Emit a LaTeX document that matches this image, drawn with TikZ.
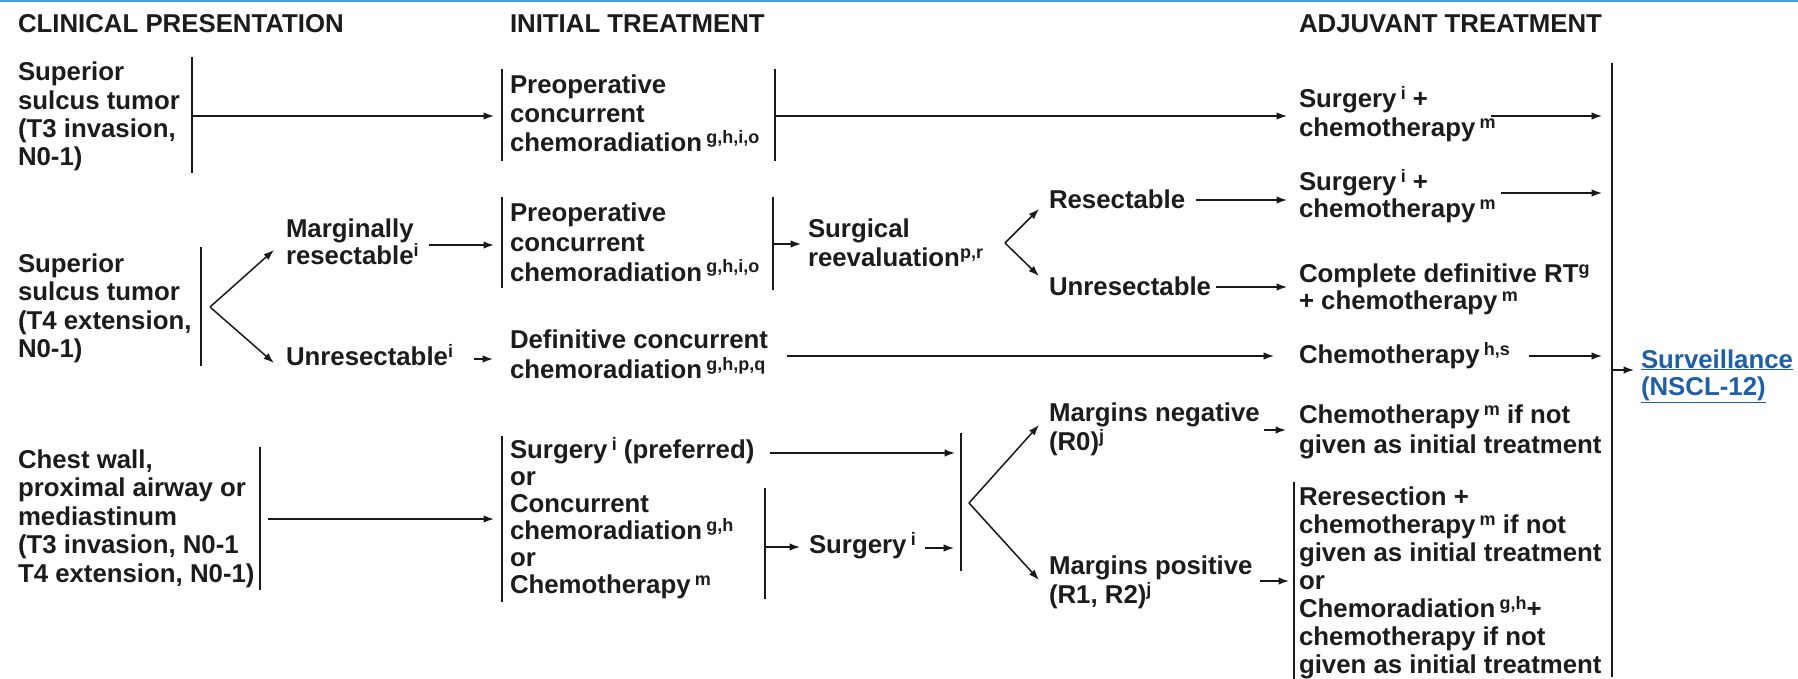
\documentclass[tikz,border=0pt]{standalone}
\usepackage{fontspec}
\setmainfont{Liberation Sans}
\usetikzlibrary{arrows.meta}
\definecolor{txt}{RGB}{28,28,28}
\definecolor{topline}{RGB}{70,160,215}
\definecolor{linkblue}{RGB}{30,95,165}
\newcommand\blk[2]{\fontsize{25.8}{#1}\selectfont\begin{tabular}[t]{@{}l@{}}#2\end{tabular}}
\newcommand\sps[1]{\smash{\raisebox{8pt}{\fontsize{18}{18}\selectfont #1}}}
\begin{document}
\begin{tikzpicture}[x=1pt,y=-1pt,
  tx/.style={anchor=base west, inner sep=0pt, outer sep=0pt, font=\bfseries\fontsize{25.8}{29}\selectfont, text=txt},
  bar/.style={line width=1.5pt, draw=black!90},
  arr/.style={line width=1.5pt, draw=black!90, -{Latex[length=10.5pt,width=7.5pt]}},
  ln/.style={line width=1.5pt, draw=black!90}]
\useasboundingbox (0,0) rectangle (1798,679);
\fill[white] (0,0) rectangle (1798,679);
\draw[topline, line width=2.5pt] (0,1) -- (1798,1);

% headers
\node[tx] (h1) at (18,33) {CLINICAL PRESENTATION};
\node[tx] (h2) at (510,33) {INITIAL TREATMENT};
\node[tx] (h3) at (1299,33) {ADJUVANT TREATMENT};

% ---------- row 1
\node[tx] (p1) at (18,81) {\blk{28.3}{Superior\\sulcus tumor\\(T3 invasion,\\N0-1)}};
\coordinate (p1t) at (192,57); \coordinate (p1b) at (192,173); \coordinate (p1o) at (192,116);
\draw[bar] (p1t) -- (p1b);
\coordinate (t1t) at (502,69); \coordinate (t1b) at (502,161); \coordinate (t1i) at (494,116);
\draw[bar] (t1t) -- (t1b);
\draw[arr] (p1o) -- (t1i);
\node[tx] (t1) at (510,94) {\blk{29}{Preoperative\\concurrent\\chemoradiation\,\sps{g,h,i,o}}};
\coordinate (t1rt) at (775,69); \coordinate (t1rb) at (775,161); \coordinate (t1o) at (775,116);
\draw[bar] (t1rt) -- (t1rb);
\coordinate (a1i) at (1287,116);
\draw[arr] (t1o) -- (a1i);
\node[tx] (a1) at (1299,108) {\blk{29}{Surgery\,\sps{i} +\\chemotherapy\,\sps{m}}};
\coordinate (a1o) at (1491,116); \coordinate (e1) at (1602,116);
\draw[arr] (a1o) -- (e1);

% big collecting bar
\coordinate (bigt) at (1612,63); \coordinate (bigb) at (1612,677);
\draw[bar] (bigt) -- (bigb);

% ---------- row 2
\node[tx] (p2) at (18,272) {\blk{28.6}{Superior\\sulcus tumor\\(T4 extension,\\N0-1)}};
\coordinate (p2t) at (201,247); \coordinate (p2b) at (201,366);
\draw[bar] (p2t) -- (p2b);
\coordinate (f2) at (210,307);
\coordinate (m2i) at (274,250); \coordinate (u3i) at (274,363);
\draw[arr] (f2) -- (m2i);
\draw[arr] (f2) -- (u3i);
\node[tx] (m2) at (286,237) {\blk{27}{Marginally\\resectable\sps{i}}};
\coordinate (m2o) at (429,245); \coordinate (t2i) at (494,245);
\draw[arr] (m2o) -- (t2i);
\coordinate (t2t) at (502,197); \coordinate (t2b) at (502,288);
\draw[bar] (t2t) -- (t2b);
\node[tx] (t2) at (510,222) {\blk{29.5}{Preoperative\\concurrent\\chemoradiation\,\sps{g,h,i,o}}};
\coordinate (t2rt) at (773,197); \coordinate (t2rb) at (773,290); \coordinate (t2o) at (773,244);
\draw[bar] (t2rt) -- (t2rb);
\coordinate (s2i) at (801,244);
\draw[arr] (t2o) -- (s2i);
\node[tx] (s2) at (808,237) {\blk{29}{Surgical\\reevaluation\sps{p,r}}};
\coordinate (f3) at (1005,243);
\coordinate (r2i) at (1039,209); \coordinate (u2i) at (1039,276);
\draw[arr] (f3) -- (r2i);
\draw[arr] (f3) -- (u2i);
\node[tx] (r2) at (1049,208) {Resectable};
\node[tx] (u2) at (1049,295) {Unresectable};
\coordinate (r2o) at (1196,200); \coordinate (a2i) at (1287,200);
\draw[arr] (r2o) -- (a2i);
\coordinate (u2o) at (1216,287); \coordinate (a3i) at (1287,287);
\draw[arr] (u2o) -- (a3i);
\node[tx] (a2) at (1299,190) {\blk{28}{Surgery\,\sps{i} +\\chemotherapy\,\sps{m}}};
\coordinate (a2o) at (1501,193); \coordinate (e2) at (1602,193);
\draw[arr] (a2o) -- (e2);
\node[tx] (a3) at (1299,282) {\blk{27}{Complete definitive RT\sps{g}\\+ chemotherapy\,\sps{m}}};

% ---------- row 3
\node[tx] (u3) at (286,365) {Unresectable\sps{i}};
\coordinate (u3o) at (474,359); \coordinate (t3i) at (493,359);
\draw[arr] (u3o) -- (t3i);
\node[tx] (t3) at (510,348) {\blk{30}{Definitive concurrent\\chemoradiation\,\sps{g,h,p,q}}};
\coordinate (t3o) at (787,356); \coordinate (a4i) at (1274,356);
\draw[arr] (t3o) -- (a4i);
\node[tx] (a4) at (1299,363) {Chemotherapy\,\sps{h,s}};
\coordinate (a4o) at (1529,356); \coordinate (e3) at (1602,356);
\draw[arr] (a4o) -- (e3);
\coordinate (bigo) at (1612,370); \coordinate (svi) at (1634,370);
\draw[arr] (bigo) -- (svi);
\node[tx, text=linkblue] (sv) at (1641,368) {\blk{27}{\underline{Surveillance}\\\underline{(NSCL-12)}}};

% ---------- row 4
\node[tx] (p4) at (18,468) {\blk{28.5}{Chest wall,\\proximal airway or\\mediastinum\\(T3 invasion, N0-1\\T4 extension, N0-1)}};
\coordinate (p4t) at (260,447); \coordinate (p4b) at (260,590); \coordinate (p4o) at (268,519);
\draw[bar] (p4t) -- (p4b);
\coordinate (t4i) at (494,519);
\draw[arr] (p4o) -- (t4i);
\coordinate (t4t) at (502,436); \coordinate (t4b) at (502,602);
\draw[bar] (t4t) -- (t4b);
\node[tx] (t4) at (510,458) {\blk{27}{Surgery\,\sps{i} (preferred)\\or\\Concurrent\\chemoradiation\,\sps{g,h}\\or\\Chemotherapy\,\sps{m}}};
\coordinate (t4o) at (770,453); \coordinate (j4a) at (955,453);
\draw[arr] (t4o) -- (j4a);
\coordinate (t4it) at (765,488); \coordinate (t4ib) at (765,599); \coordinate (t4io) at (765,547);
\draw[bar] (t4it) -- (t4ib);
\coordinate (s4i) at (800,547);
\draw[arr] (t4io) -- (s4i);
\node[tx] (s4) at (809,553) {Surgery\,\sps{i}};
\coordinate (s4o) at (925,548); \coordinate (j4b) at (954,548);
\draw[arr] (s4o) -- (j4b);
\coordinate (j4t) at (961,433); \coordinate (j4bb) at (961,571);
\draw[bar] (j4t) -- (j4bb);
\coordinate (f4) at (969,503);
\coordinate (mni) at (1039,425); \coordinate (mpi) at (1039,580);
\draw[arr] (f4) -- (mni);
\draw[arr] (f4) -- (mpi);
\node[tx] (mn) at (1049,421) {\blk{29}{Margins negative\\(R0)\sps{j}}};
\coordinate (mno) at (1264,430); \coordinate (a5i) at (1286,430);
\draw[arr] (mno) -- (a5i);
\node[tx] (a5) at (1299,423) {\blk{30}{Chemotherapy\,\sps{m} if not\\given as initial treatment}};
\node[tx] (mp) at (1049,574) {\blk{29}{Margins positive\\(R1, R2)\sps{j}}};
\coordinate (mpo) at (1260,581); \coordinate (a6i) at (1289,581);
\draw[arr] (mpo) -- (a6i);
\coordinate (a6t) at (1294,482); \coordinate (a6b) at (1294,679);
\draw[bar] (a6t) -- (a6b);
\node[tx] (a6) at (1299,505) {\blk{28}{Reresection +\\chemotherapy\,\sps{m} if not\\given as initial treatment\\or\\Chemoradiation\,\sps{g,h}+\\chemotherapy if not\\given as initial treatment}};
\end{tikzpicture}
\end{document}
